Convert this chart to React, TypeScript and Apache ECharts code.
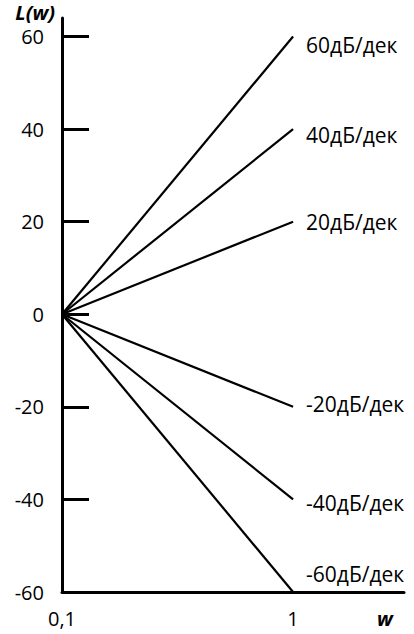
import React, { useEffect, useRef } from "react";
import * as echarts from "echarts";

// ---- data ----
const wValues = [0.1, 1]; // start and end frequency of every asymptote
const startLevel = 0; // L(w) at w = 0.1
const slopes = [60, 40, 20, -20, -40, -60]; // dB per decade -> L(w) at w = 1
const slopeLabels = ["60дБ/дек", "40дБ/дек", "20дБ/дек", "-20дБ/дек", "-40дБ/дек", "-60дБ/дек"];
const yTickValues = [-60, -40, -20, 0, 20, 40, 60];
const xTickValues = [0.1, 1];
const xTickLabels = ["0,1", "1"];

const FONT = "'Open Sans', 'DejaVu Sans', sans-serif";

export default function App() {
  const ref = useRef<HTMLDivElement>(null);

  useEffect(() => {
    if (!ref.current) return;
    const chart = echarts.init(ref.current, undefined, { renderer: "svg" });

    const labelNudge: Record<number, number[]> = {
      60: [0, 8],
      40: [0, 6],
      [-20]: [0, -3],
      [-40]: [0, 4],
      [-60]: [0, -18],
    };

    const series = slopes.map((s, i) => ({
      type: "line",
      name: slopeLabels[i],
      data: [
        [wValues[0], startLevel],
        [wValues[1], startLevel + s],
      ],
      symbol: "none",
      silent: true,
      lineStyle: { color: "#000", width: 2.2 },
      endLabel: {
        show: true,
        formatter: slopeLabels[i],
        color: "#000",
        fontFamily: FONT,
        fontSize: 21,
        distance: 13,
        offset: labelNudge[s] || [0, 0],
      },
    }));

    chart.setOption({
      animation: false,
      backgroundColor: "#fff",
      grid: { left: 62, right: 10, top: 18, bottom: 42 },
      xAxis: {
        type: "log",
        logBase: 10,
        min: 0.1,
        max: 3.02,
        name: "w",
        nameLocation: "end",
        nameGap: -27,
        nameTextStyle: {
          fontFamily: FONT,
          fontSize: 20,
          fontWeight: "bold",
          fontStyle: "italic",
          color: "#000",
          align: "left",
          verticalAlign: "top",
          padding: [16, 0, 0, 0],
        },
        axisLine: { onZero: false, lineStyle: { color: "#000", width: 3 } },
        axisTick: { show: false },
        splitLine: { show: false },
        axisLabel: {
          color: "#000",
          fontFamily: FONT,
          fontSize: 20,
          margin: 16,
          showMaxLabel: false,
          formatter: (v: number) => {
            for (let k = 0; k < xTickValues.length; k++) {
              if (Math.abs(v - xTickValues[k]) < 1e-6) return xTickLabels[k];
            }
            return "";
          },
        },
      },
      yAxis: {
        type: "value",
        min: -60,
        max: 64,
        interval: 20,
        name: "L(w)",
        nameLocation: "end",
        nameGap: 6,
        nameTextStyle: {
          fontFamily: FONT,
          fontSize: 20,
          lineHeight: 20,
          fontWeight: "bold",
          fontStyle: "italic",
          color: "#000",
          align: "right",
          verticalAlign: "middle",
          padding: [0, 7, 0, 0],
        },
        axisLine: { show: true, onZero: false, lineStyle: { color: "#000", width: 3 } },
        axisTick: {
          show: true,
          inside: true,
          length: 27,
          customValues: yTickValues,
          lineStyle: { color: "#000", width: 3 },
        },
        splitLine: { show: false },
        axisLabel: {
          color: "#000",
          fontFamily: FONT,
          fontSize: 20,
          lineHeight: 20,
          margin: 18,
          hideOverlap: false,
          customValues: yTickValues,
        },
      },
      series,
    });

    return () => chart.dispose();
  }, []);

  return (
    <div
      ref={ref}
      style={{ position: "fixed", left: 0, top: 0, width: 414, height: 634, background: "#fff" }}
    />
  );
}
